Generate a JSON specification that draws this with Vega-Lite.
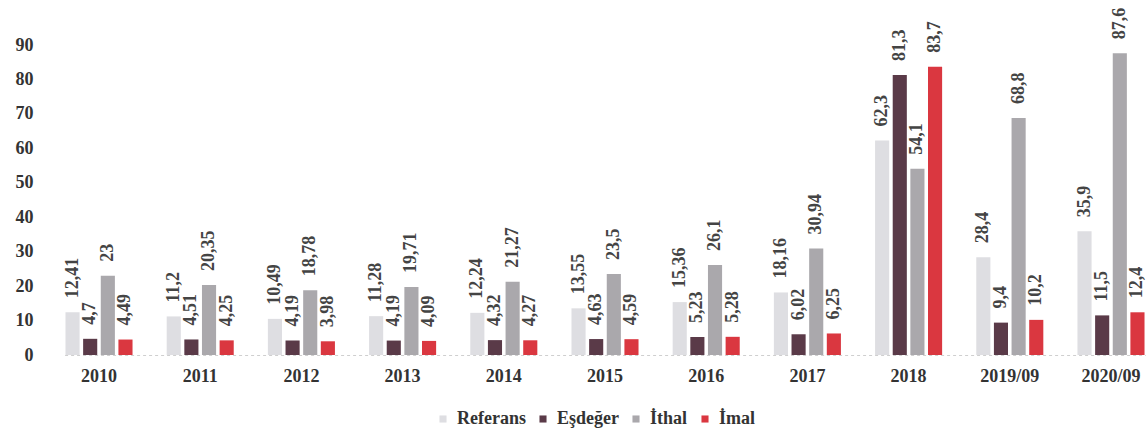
{
  "$schema": "https://vega.github.io/schema/vega-lite/v6.json",
  "width": 1105,
  "height": 310,
  "autosize": {"type": "none"},
  "padding": {"left": 42, "top": 45, "right": 0, "bottom": 74},
  "background": "white",
  "config": {
    "font": "Liberation Serif",
    "view": {"stroke": null},
    "axis": {"labelFont": "Liberation Serif", "labelFontWeight": "bold", "labelFontSize": 18, "labelColor": "#333333"}
  },
  "data": {
    "values": [
      {"year": "2010", "series": "Referans", "value": 12.41, "label": "12,41"},
      {"year": "2010", "series": "Eşdeğer", "value": 4.7, "label": "4,7"},
      {"year": "2010", "series": "İthal", "value": 23, "label": "23"},
      {"year": "2010", "series": "İmal", "value": 4.49, "label": "4,49"},
      {"year": "2011", "series": "Referans", "value": 11.2, "label": "11,2"},
      {"year": "2011", "series": "Eşdeğer", "value": 4.51, "label": "4,51"},
      {"year": "2011", "series": "İthal", "value": 20.35, "label": "20,35"},
      {"year": "2011", "series": "İmal", "value": 4.25, "label": "4,25"},
      {"year": "2012", "series": "Referans", "value": 10.49, "label": "10,49"},
      {"year": "2012", "series": "Eşdeğer", "value": 4.19, "label": "4,19"},
      {"year": "2012", "series": "İthal", "value": 18.78, "label": "18,78"},
      {"year": "2012", "series": "İmal", "value": 3.98, "label": "3,98"},
      {"year": "2013", "series": "Referans", "value": 11.28, "label": "11,28"},
      {"year": "2013", "series": "Eşdeğer", "value": 4.19, "label": "4,19"},
      {"year": "2013", "series": "İthal", "value": 19.71, "label": "19,71"},
      {"year": "2013", "series": "İmal", "value": 4.09, "label": "4,09"},
      {"year": "2014", "series": "Referans", "value": 12.24, "label": "12,24"},
      {"year": "2014", "series": "Eşdeğer", "value": 4.32, "label": "4,32"},
      {"year": "2014", "series": "İthal", "value": 21.27, "label": "21,27"},
      {"year": "2014", "series": "İmal", "value": 4.27, "label": "4,27"},
      {"year": "2015", "series": "Referans", "value": 13.55, "label": "13,55"},
      {"year": "2015", "series": "Eşdeğer", "value": 4.63, "label": "4,63"},
      {"year": "2015", "series": "İthal", "value": 23.5, "label": "23,5"},
      {"year": "2015", "series": "İmal", "value": 4.59, "label": "4,59"},
      {"year": "2016", "series": "Referans", "value": 15.36, "label": "15,36"},
      {"year": "2016", "series": "Eşdeğer", "value": 5.23, "label": "5,23"},
      {"year": "2016", "series": "İthal", "value": 26.1, "label": "26,1"},
      {"year": "2016", "series": "İmal", "value": 5.28, "label": "5,28"},
      {"year": "2017", "series": "Referans", "value": 18.16, "label": "18,16"},
      {"year": "2017", "series": "Eşdeğer", "value": 6.02, "label": "6,02"},
      {"year": "2017", "series": "İthal", "value": 30.94, "label": "30,94"},
      {"year": "2017", "series": "İmal", "value": 6.25, "label": "6,25"},
      {"year": "2018", "series": "Referans", "value": 62.3, "label": "62,3"},
      {"year": "2018", "series": "Eşdeğer", "value": 81.3, "label": "81,3"},
      {"year": "2018", "series": "İthal", "value": 54.1, "label": "54,1"},
      {"year": "2018", "series": "İmal", "value": 83.7, "label": "83,7"},
      {"year": "2019/09", "series": "Referans", "value": 28.4, "label": "28,4"},
      {"year": "2019/09", "series": "Eşdeğer", "value": 9.4, "label": "9,4"},
      {"year": "2019/09", "series": "İthal", "value": 68.8, "label": "68,8"},
      {"year": "2019/09", "series": "İmal", "value": 10.2, "label": "10,2"},
      {"year": "2020/09", "series": "Referans", "value": 35.9, "label": "35,9"},
      {"year": "2020/09", "series": "Eşdeğer", "value": 11.5, "label": "11,5"},
      {"year": "2020/09", "series": "İthal", "value": 87.6, "label": "87,6"},
      {"year": "2020/09", "series": "İmal", "value": 12.4, "label": "12,4"}
    ]
  },
  "encoding": {
    "x": {
      "field": "year", "type": "nominal", "sort": null,
      "scale": {"range": [22.6, 1103.4], "paddingInner": 0.32, "paddingOuter": 0},
      "axis": {"title": null, "labelAngle": 0, "ticks": false, "labelPadding": 12, "domainColor": "#cfcfcf", "domainDash": [3, 3], "domainWidth": 1}
    },
    "xOffset": {
      "field": "series", "type": "nominal", "sort": ["Referans", "Eşdeğer", "İthal", "İmal"],
      "scale": {"paddingInner": 0.2, "paddingOuter": 0.05}
    },
    "y": {
      "field": "value", "type": "quantitative",
      "scale": {"domain": [0, 90], "nice": false},
      "axis": {"title": null, "values": [0, 10, 20, 30, 40, 50, 60, 70, 80, 90], "grid": false, "domain": false, "ticks": false, "labelPadding": 9}
    }
  },
  "layer": [
    {
      "mark": {"type": "bar"},
      "encoding": {
        "color": {
          "field": "series", "type": "nominal",
          "sort": ["Referans", "Eşdeğer", "İthal", "İmal"],
          "scale": {"domain": ["Referans", "Eşdeğer", "İthal", "İmal"], "range": ["#dedee2", "#5a3a48", "#aaa8ac", "#da3740"]},
          "legend": {
            "title": null, "orient": "none", "direction": "horizontal",
            "legendX": 392, "legendY": 365,
            "symbolType": "square", "symbolSize": 50, "symbolStrokeWidth": 0,
            "labelFont": "Liberation Serif", "labelFontWeight": "bold", "labelFontSize": 18, "labelColor": "#333333",
            "labelOffset": 5, "columnPadding": 8, "padding": 0
          }
        }
      }
    },
    {
      "mark": {"type": "text", "angle": 270, "align": "left", "baseline": "middle", "dx": 14, "font": "Liberation Serif", "fontWeight": "bold", "fontSize": 18, "color": "#444444"},
      "encoding": {"text": {"field": "label"}}
    }
  ]
}
